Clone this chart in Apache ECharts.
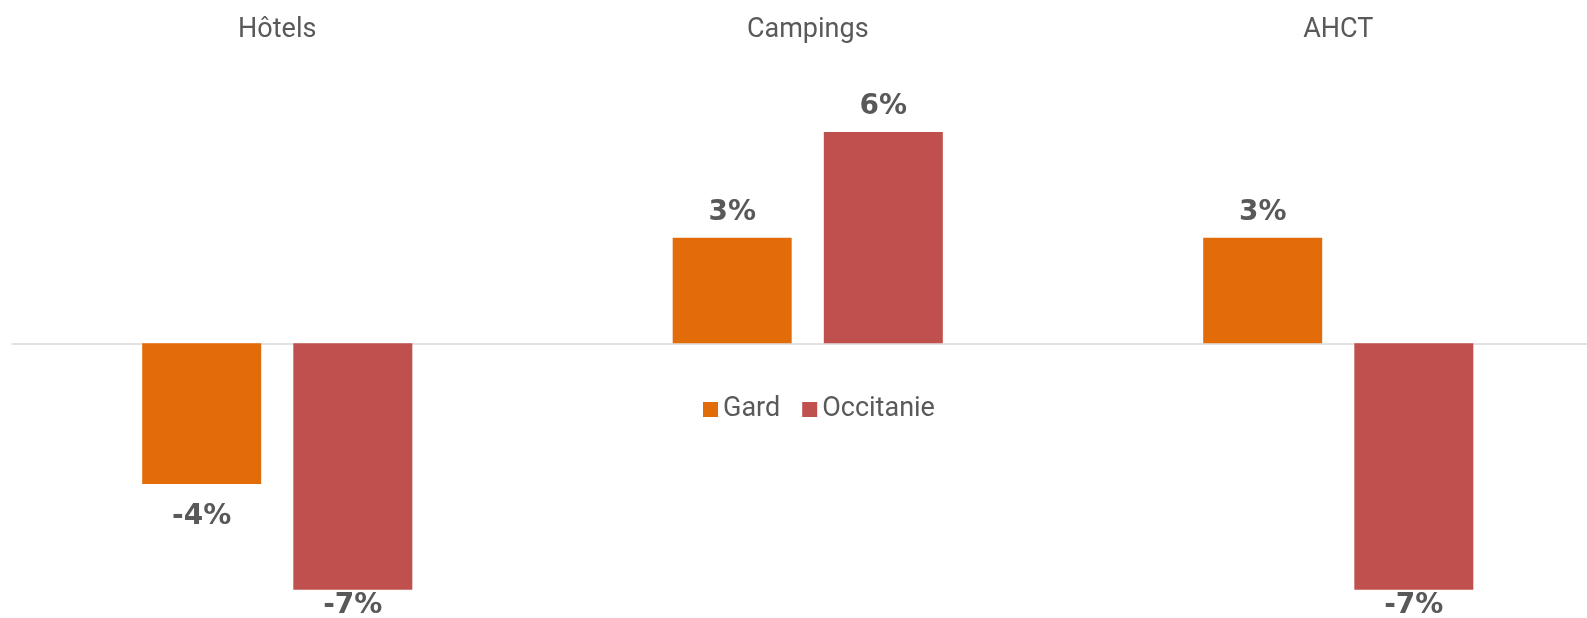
<!DOCTYPE html>
<html>
<head>
<meta charset="utf-8">
<script src="https://cdn.jsdelivr.net/npm/echarts@6/dist/echarts.min.js"></script>
<style>
  html, body { margin: 0; padding: 0; background: #fff; }
  #main { width: 1587px; height: 618px; }
</style>
</head>
<body>
<div id="main"></div>
<script>
// Categories and series values (in %)
const categories = ['Hôtels', 'Campings', 'AHCT'];
const gard = [-4, 3, 3];
const occitanie = [-7, 6, -7];

const textColor = '#595959';
const font = 'Roboto';
const labelFont = 'DejaVu Sans';
const labelFloor = 592; // lowest top edge for a value label, like Excel keeps them in the chart area

// Put the label above positive bars and below negative ones
const withLabels = values => values.map(v => ({
  value: v,
  label: v < 0 ? { position: 'bottom', distance: 19 } : { position: 'top', distance: 11 }
}));

const barLabel = {
  show: true,
  color: textColor,
  fontFamily: labelFont,
  fontWeight: 'bold',
  fontSize: 28,
  formatter: p => p.value + '%'
};

const myChart = echarts.init(document.getElementById('main'));

const option = {
  animation: false,
  textStyle: { fontFamily: font },
  // the plot runs a bit past the right and bottom edges, like the original
  grid: { left: 12, top: 61.7, width: 1591.5, height: 563.2, outerBoundsMode: 'none', containLabel: false },
  legend: {
    data: ['Gard', 'Occitanie'],
    left: 698,
    top: 391,
    icon: 'rect',
    itemWidth: 15,
    itemHeight: 15,
    itemGap: 22,
    textStyle: { color: textColor, fontSize: 27, fontFamily: font }
  },
  xAxis: [
    {
      type: 'category',
      data: categories,
      position: 'top',
      axisLine: { show: false, onZero: false },
      axisTick: { show: false },
      axisLabel: { color: textColor, fontSize: 27, margin: 18 }
    },
    {
      // zero line only
      type: 'category',
      data: categories,
      position: 'bottom',
      axisLine: { onZero: true, lineStyle: { color: '#d9d9d9', width: 1.5 } },
      axisTick: { show: false },
      axisLabel: { show: false }
    }
  ],
  yAxis: {
    type: 'value',
    min: -8,
    max: 8,
    show: false,
    splitLine: { show: false }
  },
  labelLayout: p => {
    const r = p.labelRect;
    if (r.y <= labelFloor) return {};
    return { x: r.x + r.width / 2, y: labelFloor, align: 'center', verticalAlign: 'top' };
  },
  series: [
    {
      name: 'Gard',
      type: 'bar',
      barWidth: 119,
      barGap: '27%',
      itemStyle: { color: '#E36C0A' },
      label: barLabel,
      data: withLabels(gard)
    },
    {
      name: 'Occitanie',
      type: 'bar',
      barWidth: 119,
      barGap: '27%',
      itemStyle: { color: '#C0504D' },
      label: barLabel,
      data: withLabels(occitanie)
    }
  ]
};

myChart.setOption(option);
</script>
</body>
</html>
